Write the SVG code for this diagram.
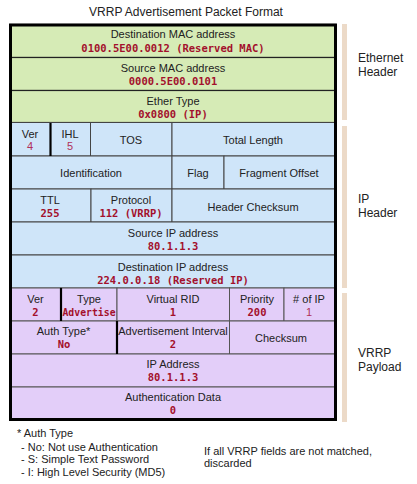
<svg xmlns="http://www.w3.org/2000/svg" width="417" height="484" viewBox="0 0 417 484">
<style>
.eth{fill:#d6ebb6;stroke:#222;stroke-width:1.2}
.ip{fill:#cfe5f9;stroke:#444;stroke-width:1}
.vr{fill:#e3cef9;stroke:#555;stroke-width:1}
.lb{font-family:"Liberation Sans",Arial,sans-serif;font-size:11px;fill:#222;text-anchor:middle}
.vl{font-family:"DejaVu Sans Mono","Liberation Mono",monospace;font-size:10.5px;font-weight:bold;fill:#a3102c;text-anchor:middle}
.vn{font-family:"Liberation Sans",Arial,sans-serif;font-size:11px;fill:#b0305a;text-anchor:middle}
.side{font-family:"Liberation Sans",Arial,sans-serif;font-size:12px;fill:#222}
.note{font-family:"Liberation Sans",Arial,sans-serif;font-size:11px;fill:#222}
.bar{fill:#ecdac8}
.thick{stroke:#000;stroke-width:2.2}
</style>
<text x="186" y="16" class="lb" style="font-size:12px">VRRP Advertisement Packet Format</text>

<g id="eth-dst-mac"><rect class="eth" x="10.5" y="24.5" width="325" height="33"/><text class="lb" x="173" y="38">Destination MAC address</text><text class="vl" x="173" y="52">0100.5E00.0012 (Reserved MAC)</text></g>
<g id="eth-src-mac"><rect class="eth" x="10.5" y="57.5" width="325" height="33"/><text class="lb" x="173" y="71.5">Source MAC address</text><text class="vl" x="173" y="84.5">0000.5E00.0101</text></g>
<g id="eth-type"><rect class="eth" x="10.5" y="90.5" width="325" height="32"/><text class="lb" x="173" y="104.5">Ether Type</text><text class="vl" x="173" y="117.5">0x0800 (IP)</text></g>

<g id="ip-ver"><rect class="ip" x="10.5" y="122.5" width="40" height="33.5"/><text class="lb" x="30" y="137.5">Ver</text><text class="vn" x="30" y="150">4</text></g>
<g id="ip-ihl"><rect class="ip" x="50.5" y="122.5" width="40" height="33.5"/><text class="lb" x="70" y="137.5">IHL</text><text class="vn" x="70" y="150">5</text></g>
<g id="ip-tos"><rect class="ip" x="90.5" y="122.5" width="81.5" height="33.5"/><text class="lb" x="131" y="144">TOS</text></g>
<g id="ip-total-length"><rect class="ip" x="172" y="122.5" width="163.5" height="33.5"/><text class="lb" x="253" y="144">Total Length</text></g>
<g id="ip-identification"><rect class="ip" x="10.5" y="156" width="161.5" height="33"/><text class="lb" x="91" y="177">Identification</text></g>
<g id="ip-flag"><rect class="ip" x="172" y="156" width="52" height="33"/><text class="lb" x="198" y="177">Flag</text></g>
<g id="ip-fragment-offset"><rect class="ip" x="224" y="156" width="111.5" height="33"/><text class="lb" x="279" y="177">Fragment Offset</text></g>
<g id="ip-ttl"><rect class="ip" x="10.5" y="189" width="80.5" height="33"/><text class="lb" x="50" y="203.5">TTL</text><text class="vl" x="50" y="216.5">255</text></g>
<g id="ip-protocol"><rect class="ip" x="91" y="189" width="81" height="33"/><text class="lb" x="131" y="203.5">Protocol</text><text class="vl" x="131" y="216.5">112 (VRRP)</text></g>
<g id="ip-header-checksum"><rect class="ip" x="172" y="189" width="163.5" height="33"/><text class="lb" x="253" y="210.5">Header Checksum</text></g>
<g id="ip-src"><rect class="ip" x="10.5" y="222" width="325" height="33"/><text class="lb" x="173" y="236.5">Source IP address</text><text class="vl" x="173" y="250">80.1.1.3</text></g>
<g id="ip-dst"><rect class="ip" x="10.5" y="255" width="325" height="33"/><text class="lb" x="173" y="270.5">Destination IP address</text><text class="vl" x="173" y="283.5">224.0.0.18 (Reserved IP)</text></g>

<g id="vrrp-ver"><rect class="vr" x="10.5" y="288" width="50.5" height="33"/><text class="lb" x="35.5" y="303">Ver</text><text class="vl" x="35.5" y="316">2</text></g>
<g id="vrrp-type"><rect class="vr" x="61" y="288" width="56" height="33"/><text class="lb" x="89" y="303">Type</text><text class="vl" x="89" y="316" style="font-size:9.8px">Advertise</text></g>
<g id="vrrp-vrid"><rect class="vr" x="117" y="288" width="112.5" height="33"/><text class="lb" x="173" y="303">Virtual RID</text><text class="vl" x="173" y="316">1</text></g>
<g id="vrrp-priority"><rect class="vr" x="229.5" y="288" width="54.5" height="33"/><text class="lb" x="257" y="303">Priority</text><text class="vl" x="257" y="316">200</text></g>
<g id="vrrp-num-ip"><rect class="vr" x="284" y="288" width="51.5" height="33"/><text class="lb" x="309" y="303">
# of IP</text><text class="vn" x="309" y="316">1</text></g>
<g id="vrrp-auth-type"><rect class="vr" x="10.5" y="321" width="106.5" height="33"/><text class="lb" x="63.5" y="335">Auth Type*</text><text class="vl" x="64" y="348">No</text></g>
<g id="vrrp-adv-interval"><rect class="vr" x="117" y="321" width="112.5" height="33"/><text class="lb" x="173" y="335">Advertisement Interval</text><text class="vl" x="173" y="348">2</text></g>
<g id="vrrp-checksum"><rect class="vr" x="229.5" y="321" width="106" height="33"/><text class="lb" x="281" y="341.5">Checksum</text></g>
<g id="vrrp-ip-address"><rect class="vr" x="10.5" y="354" width="325" height="33"/><text class="lb" x="173" y="368">IP Address</text><text class="vl" x="173" y="381">80.1.1.3</text></g>
<g id="vrrp-auth-data"><rect class="vr" x="10.5" y="387" width="325" height="32.5"/><text class="lb" x="173" y="400.5">Authentication Data</text><text class="vl" x="173" y="413.5">0</text></g>

<g id="connectors">
<line class="thick" x1="50.5" y1="123" x2="50.5" y2="156"/>
<line class="thick" x1="61" y1="288" x2="61" y2="321"/>
<line class="thick" x1="117" y1="321" x2="117" y2="354"/>
<rect x="10.5" y="25" width="325" height="394.5" fill="none" stroke="#000" stroke-width="3"/>
</g>

<g id="sections">
<rect class="bar" x="342" y="24" width="5" height="96"/>
<rect class="bar" x="342" y="126" width="5" height="162"/>
<rect class="bar" x="342" y="293" width="5" height="129"/>
<text class="side" x="358" y="62">Ethernet</text><text class="side" x="358" y="76">Header</text>
<text class="side" x="358" y="203">IP</text><text class="side" x="358" y="217">Header</text>
<text class="side" x="358" y="357">VRRP</text><text class="side" x="358" y="371">Payload</text>
</g>

<g id="notes">
<text class="note" x="17" y="437">* Auth Type</text>
<text class="note" x="21" y="450.5">- No: Not use Authentication</text>
<text class="note" x="21" y="463">- S: Simple Text Password</text>
<text class="note" x="21" y="475.5">- I: High Level Security (MD5)</text>
<text class="note" x="204" y="455">If all VRRP fields are not matched,</text>
<text class="note" x="204" y="467">discarded</text>
</g>
</svg>
